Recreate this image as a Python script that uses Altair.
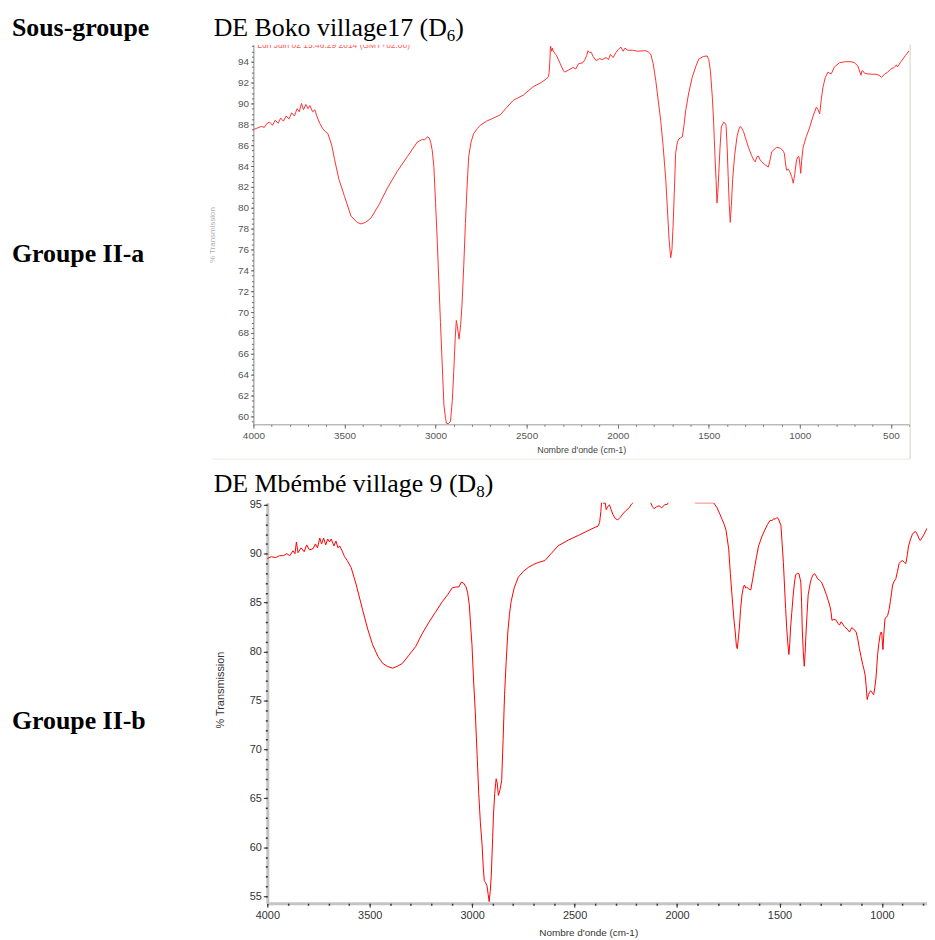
import altair as alt
import pandas as pd

# ---------------- data ----------------
# Top spectrum: DE Boko village17 (D6)
A_WN = [4000, 3985, 3970, 3955, 3940, 3925, 3910, 3895, 3880, 3865, 3850, 3835, 3820, 3805,
        3790, 3775, 3760, 3748, 3736, 3725, 3712, 3700, 3690, 3675, 3663, 3650, 3636, 3620,
        3605, 3591, 3570, 3554, 3530, 3500, 3464, 3430, 3409, 3385, 3355, 3310, 3264, 3210,
        3155, 3100, 3073, 3060, 3045, 3035, 3027, 3018, 3009, 3000, 2991, 2973, 2954, 2945,
        2940, 2930, 2918, 2908, 2900, 2892, 2886, 2880, 2871, 2862, 2855, 2845, 2836, 2827,
        2818, 2805, 2791, 2770, 2755, 2720, 2682, 2645, 2610, 2573, 2518, 2464, 2420, 2391,
        2380, 2376, 2372, 2369, 2362, 2358, 2354, 2345, 2336, 2315, 2300, 2291, 2270, 2245,
        2230, 2215, 2191, 2180, 2170, 2163, 2155, 2145, 2135, 2118, 2100, 2085, 2064, 2050,
        2040, 2025, 2009, 1995, 1982, 1970, 1960, 1945, 1920, 1890, 1860, 1845, 1830, 1818,
        1805, 1791, 1764, 1750, 1736, 1718, 1709, 1702, 1696, 1688, 1682, 1672, 1664, 1655,
        1645, 1635, 1627, 1610, 1591, 1570, 1555, 1530, 1509, 1500, 1491, 1480, 1473, 1466,
        1460, 1455, 1450, 1445, 1438, 1431, 1418, 1410, 1405, 1399, 1394, 1388, 1382, 1376,
        1369, 1358, 1345, 1335, 1327, 1318, 1309, 1295, 1282, 1265, 1250, 1245, 1235, 1227,
        1218, 1209, 1190, 1173, 1163, 1155, 1140, 1127, 1105, 1090, 1085, 1078, 1073, 1063,
        1055, 1045, 1036, 1028, 1018, 1010, 1005, 1000, 995, 990, 982, 965, 945, 927, 909,
        900, 891, 882, 873, 860, 845, 836, 827, 810, 782, 750, 718, 700, 682, 670, 664, 660,
        655, 645, 636, 610, 582, 565, 551, 535, 518, 500, 482, 470, 464, 445, 420, 400]
A_T = [87.5, 87.6, 87.7, 87.8, 87.7, 88.1, 88.2, 87.9, 88.4, 88.1, 88.6, 88.3, 88.8, 88.5,
       89.1, 88.8, 89.5, 89.2, 90.0, 89.4, 89.9, 89.5, 89.8, 89.2, 89.4, 88.7, 88.1, 87.6,
       87.3, 87.1, 86.0, 84.6, 82.7, 81.1, 79.2, 78.6, 78.45, 78.6, 79.0, 80.3, 81.9, 83.5,
       84.9, 86.3, 86.55, 86.5, 86.8, 86.7, 86.3, 85.5, 83.9, 80.5, 77.0, 69.0, 61.1, 59.8,
       59.35, 59.3, 59.5, 61.5, 64.3, 67.5, 69.2, 68.6, 67.4, 68.8, 70.6, 74.5, 78.5, 82.0,
       84.9, 86.3, 87.1, 87.6, 87.9, 88.3, 88.6, 88.9, 89.6, 90.3, 90.8, 91.6, 92.0, 92.35,
       92.6, 93.0, 94.2, 95.5, 95.0, 95.3, 95.05, 94.8, 94.6, 93.8, 93.2, 93.0, 93.2, 93.45,
       93.3, 93.8, 93.9, 94.2, 94.6, 95.05, 94.9, 94.9, 94.5, 94.1, 94.3, 94.2, 94.4, 94.2,
       94.7, 94.4, 94.9, 95.2, 95.4, 95.0, 95.3, 95.1, 95.1, 95.0, 95.05, 95.05, 94.9, 94.7,
       93.8, 92.2, 88.4, 85.8, 82.7, 77.0, 75.2, 76.0, 78.2, 82.0, 85.2, 86.3, 86.6, 86.7,
       86.8, 88.0, 89.3, 91.0, 92.5, 93.6, 94.25, 94.5, 94.55, 94.2, 93.15, 90.5, 88.1, 85.0,
       82.7, 80.45, 81.5, 83.3, 85.8, 87.75, 88.2, 88.1, 87.9, 85.8, 83.3, 80.5, 78.6, 80.2,
       82.7, 85.0, 86.8, 87.5, 87.8, 87.6, 87.3, 86.5, 85.8, 85.0, 84.5, 84.4, 84.9, 84.95,
       84.6, 84.4, 84.1, 83.9, 84.6, 85.35, 85.6, 85.8, 85.7, 85.4, 85.2, 84.2, 83.6, 83.7,
       83.45, 83.0, 82.35, 83.2, 84.6, 84.9, 84.9, 84.2, 83.3, 84.5, 85.8, 86.8, 87.75, 88.8,
       89.65, 89.4, 89.0, 90.4, 91.55, 92.5, 93.0, 92.9, 92.85, 93.5, 93.9, 94.0, 94.0, 93.9,
       93.6, 93.0, 92.7, 93.1, 93.15, 92.9, 92.85, 92.8, 92.8, 92.7, 92.5, 92.8, 93.0, 93.3,
       93.45, 93.7, 93.5, 94.0, 94.6, 95.05]

# Bottom spectrum: DE Mbémbé village 9 (D8)
B_WN = [4000, 3980, 3960, 3940, 3922, 3905, 3890, 3875, 3865, 3858, 3850, 3835, 3820, 3808,
        3795, 3777, 3765, 3755, 3744, 3735, 3725, 3715, 3705, 3696, 3688, 3675, 3665, 3655,
        3647, 3635, 3623, 3610, 3591, 3567, 3534, 3510, 3486, 3460, 3437, 3415, 3389, 3365,
        3340, 3310, 3276, 3245, 3211, 3180, 3146, 3120, 3098, 3080, 3065, 3053, 3042, 3030,
        3022, 3014, 3007, 3001, 2993, 2985, 2976, 2968, 2960, 2952, 2946, 2941, 2935, 2928,
        2922, 2917, 2912, 2907, 2900, 2896, 2890, 2883, 2878, 2872, 2865, 2856, 2849, 2842,
        2834, 2826, 2818, 2810, 2795, 2775, 2750, 2726, 2700, 2678, 2645, 2615, 2581, 2530,
        2484, 2435, 2400, 2386, 2378, 2372, 2368, 2362, 2357, 2352, 2346, 2338, 2330, 2322,
        2314, 2302, 2290, 2278, 2265, 2250, 2233, 2225, 2217, 2205, 2180, 2150, 2135, 2128,
        2120, 2112, 2100, 2088, 2075, 2060, 2047, 2035, 2000, 1960, 1925, 1910, 1880, 1850,
        1821, 1805, 1790, 1780, 1770, 1761, 1748, 1740, 1732, 1722, 1716, 1710, 1706, 1700,
        1696, 1690, 1683, 1676, 1671, 1665, 1660, 1651, 1640, 1630, 1622, 1612, 1602, 1585,
        1570, 1558, 1546, 1535, 1528, 1522, 1513, 1506, 1493, 1487, 1481, 1475, 1470, 1465,
        1460, 1454, 1450, 1446, 1440, 1433, 1426, 1421, 1412, 1405, 1396, 1392, 1389, 1384,
        1379, 1375, 1371, 1365, 1360, 1350, 1344, 1335, 1328, 1320, 1315, 1305, 1295, 1283,
        1271, 1262, 1255, 1248, 1244, 1235, 1223, 1215, 1207, 1199, 1191, 1183, 1170, 1158,
        1147, 1138, 1126, 1118, 1110, 1102, 1094, 1088, 1082, 1077, 1072, 1066, 1061, 1055,
        1050, 1045, 1040, 1035, 1029, 1025, 1021, 1015, 1009, 1004, 1001, 998, 995, 990,
        985, 978, 972, 965, 959, 953, 948, 940, 932, 924, 916, 908, 899, 891, 883, 876,
        870, 860, 851, 843, 835, 828, 820, 813, 805, 794, 780]
B_T = [89.5, 89.7, 89.6, 89.8, 89.8, 90.0, 89.8, 90.3, 90.0, 91.2, 90.1, 90.6, 90.2, 90.9,
       90.4, 90.5, 91.0, 90.6, 91.6, 91.0, 91.6, 90.9, 91.5, 91.2, 91.5, 90.8, 91.3, 90.6,
       90.8, 90.3, 89.7, 89.3, 88.6, 86.9, 84.2, 82.3, 80.7, 79.5, 78.8, 78.5, 78.3, 78.5,
       78.8, 79.6, 80.5, 81.8, 83.0, 84.0, 85.1, 85.8, 86.5, 86.6, 86.6, 87.1, 87.0, 86.6,
       86.0, 84.75, 82.5, 80.7, 77.0, 73.9, 69.5, 65.5, 62.5, 60.4, 58.0, 56.6, 56.4, 56.1,
       55.2, 54.45, 55.5, 57.0, 61.0, 63.4, 65.5, 67.0, 66.6, 65.3, 65.8, 66.8, 71.0, 75.6,
       79.0, 82.0, 83.8, 85.1, 86.5, 87.6, 88.2, 88.6, 88.9, 89.1, 89.3, 90.0, 90.8, 91.4,
       91.85, 92.35, 92.7, 92.8, 93.2, 94.3, 95.4, 95.5, 95.1, 95.4, 94.5, 94.8, 95.0, 94.5,
       94.05, 93.6, 93.45, 93.7, 94.05, 94.4, 94.7, 95.0, 95.15, 95.8, 96.0, 95.8, 95.5, 95.2,
       94.8, 94.6, 94.8, 94.9, 94.7, 95.0, 95.05, 95.6, 96.0, 95.8, 95.5, 95.2, 95.2, 95.2,
       95.2, 94.7, 94.0, 93.5, 93.0, 92.4, 90.5, 88.0, 85.8, 83.2, 82.0, 80.5, 80.3, 81.5,
       82.4, 84.3, 85.8, 86.6, 86.8, 86.5, 86.6, 86.4, 86.3, 87.5, 88.5, 89.7, 90.8, 91.8,
       92.5, 93.0, 93.4, 93.4, 93.6, 93.5, 93.7, 93.6, 92.9, 91.0, 89.1, 86.5, 84.4, 82.5,
       81.0, 79.7, 80.8, 82.4, 84.0, 85.8, 87.2, 87.85, 88.0, 87.95, 87.1, 85.0, 82.4, 80.0,
       78.5, 79.8, 81.7, 84.0, 85.8, 87.0, 87.45, 87.9, 87.95, 87.7, 87.45, 87.3, 87.1, 86.5,
       85.8, 85.2, 84.75, 84.0, 83.2, 83.3, 83.2, 82.9, 82.7, 83.05, 82.8, 82.55, 82.3, 82.0,
       82.45, 82.3, 82.0, 81.3, 80.3, 79.5, 78.7, 78.2, 77.6, 76.5, 75.1, 75.6, 75.8, 76.0,
       75.9, 75.7, 75.6, 76.3, 77.3, 78.5, 79.7, 80.8, 81.7, 82.0, 81.9, 81.0, 80.2, 82.0,
       83.4, 83.5, 83.7, 84.3, 85.1, 86.0, 86.8, 87.2, 87.45, 88.2, 89.0, 89.2, 89.3, 89.1,
       89.0, 89.9, 90.8, 91.5, 92.0, 92.2, 92.25, 92.0, 91.6, 91.35, 91.6, 92.0, 92.6]

# axis ticks
A_X_MAJOR = [4000, 3500, 3000, 2500, 2000, 1500, 1000, 500]
A_X_MINOR = list(range(4000, 399, -100))
A_Y_MAJOR = list(range(60, 96, 2))
A_Y_MINOR = [59.5 + 0.5 * i for i in range(73)]
B_X_MAJOR = [4000, 3500, 3000, 2500, 2000, 1500, 1000]
B_X_MINOR = list(range(4000, 799, -100))
B_Y_MAJOR = list(range(55, 96, 5))
B_Y_MINOR = list(range(55, 96))

# texts
LEFT_LABELS = ["Sous-groupe", "Groupe II-a", "Groupe II-b"]
TITLE_A = ["DE Boko village17 (D", "6", ")"]
TITLE_B = ["DE Mbémbé village 9 (D", "8", ")"]
STAMP = "Lun Juin 02 15:46:29 2014 (GMT+02:00)"
X_TITLE = "Nombre d'onde (cm-1)"
Y_TITLE = "% Transmission"

SERIF = "Liberation Serif"
SANS = "Liberation Sans"


def text(t, x, y, size, font=SERIF, weight="normal", color="#000000", clip=False):
    return alt.Chart(pd.DataFrame({"t": [t]})).mark_text(
        align="left", baseline="alphabetic", font=font, fontSize=size,
        fontWeight=weight, color=color, clip=clip
    ).encode(x=alt.value(x), y=alt.value(y), text="t:N")


# ---------------- top chart ----------------
WA, HA = 660, 382
dfA = pd.DataFrame({"wn": A_WN, "T": A_T})
xsA = alt.Scale(domain=[4000, 400], nice=False, zero=False)
ysA = alt.Scale(domain=[59.24, 95.62], nice=False, zero=False)

lineA = alt.Chart(dfA).mark_line(color="#ff3030", strokeWidth=1, clip=True).encode(
    x=alt.X("wn:Q", scale=xsA, axis=alt.Axis(
        orient="bottom", values=A_X_MAJOR, format="d", labelFlush=False, labelOverlap=False,
        grid=False, labelFont=SANS, labelFontSize=10, labelColor="#555555", labelPadding=2,
        tickSize=4, tickColor="#777777", domainColor="#999999",
        title=X_TITLE, titleFont=SANS, titleFontSize=9, titleFontWeight="normal",
        titleColor="#444444", titlePadding=5)),
    y=alt.Y("T:Q", scale=ysA, axis=alt.Axis(
        orient="left", values=A_Y_MAJOR, grid=False, labelFont=SANS, labelFontSize=10,
        labelColor="#555555", labelPadding=2, tickSize=3, tickColor="#777777",
        domainColor="#888888", title=Y_TITLE, titleFont=SANS, titleFontSize=8,
        titleFontWeight="normal", titleColor="#b0b0b0", titleX=-41, titleY=191,
        titleAlign="center", titleBaseline="middle")),
)
minorA = alt.Chart(dfA).mark_line(strokeOpacity=0).encode(
    x=alt.X("wn:Q", axis=alt.Axis(orient="bottom", values=A_X_MINOR, labels=False,
                                  domain=False, grid=False, tickSize=2, tickColor="#777777",
                                  title=None)),
    y=alt.Y("T:Q", axis=alt.Axis(orient="left", values=A_Y_MINOR, labels=False,
                                 domain=False, grid=False, tickSize=2, tickColor="#666666",
                                 title=None)),
)
borderR = alt.Chart(pd.DataFrame({"t": [0]})).mark_rule(color="#d8d2c4", strokeWidth=1).encode(
    x=alt.value(WA + 1), y=alt.value(0), y2=alt.value(417))
borderB = alt.Chart(pd.DataFrame({"t": [0]})).mark_rule(color="#efe9dc", strokeWidth=1).encode(
    x=alt.value(-42), x2=alt.value(WA + 1), y=alt.value(417))

chartA = alt.layer(
    lineA, minorA, borderR, borderB,
    text(STAMP, 4, 3.5, 8.5, font=SANS, color="#ff5a5a", clip=True),
    text(LEFT_LABELS[0], -243, -9, 26, weight="bold"),
    text(LEFT_LABELS[1], -243, 219, 26, weight="bold"),
    text(TITLE_A[0], -40, -9, 26),
    text(TITLE_A[1], 194.7, -4, 17),
    text(TITLE_A[2], 203.2, -9, 26),
).resolve_axis(x="independent", y="independent").properties(width=WA, height=HA)

# ---------------- bottom chart ----------------
# the bottom plot starts 14 px right of the top one: its x range and y axis are shifted
SHIFT = 14
WB, HB = 678, 403
dfB = pd.DataFrame({"wn": B_WN, "T": B_T})
xsB = alt.Scale(domain=[4000, 780], range=[SHIFT, WB], nice=False, zero=False)
ysB = alt.Scale(domain=[54.29, 95.2], nice=False, zero=False)

lineB = alt.Chart(dfB).mark_line(color="#ff0000", strokeWidth=1, clip=True).encode(
    x=alt.X("wn:Q", scale=xsB, axis=alt.Axis(
        orient="bottom", values=B_X_MAJOR, format="d", labelFlush=False, labelOverlap=False,
        grid=False, labelFont=SANS, labelFontSize=11, labelColor="#333333", labelPadding=2,
        tickSize=4, tickColor="#222222", domainColor="#c4c4c4", domainWidth=3,
        title=X_TITLE, titleFont=SANS, titleFontSize=10, titleFontWeight="normal",
        titleColor="#333333", titlePadding=8, titleX=337)),
    y=alt.Y("T:Q", scale=ysB, axis=alt.Axis(
        orient="left", offset=-SHIFT, values=B_Y_MAJOR, grid=False, labelFont=SANS,
        labelFontSize=11, labelColor="#333333", labelPadding=2, tickSize=4,
        tickColor="#222222", domainColor="#c4c4c4", domainWidth=3, title=Y_TITLE,
        titleFont=SANS, titleFontSize=11, titleFontWeight="normal", titleColor="#333333",
        titleX=-47, titleY=188, titleAlign="center", titleBaseline="middle")),
)
minorB = alt.Chart(dfB).mark_line(strokeOpacity=0).encode(
    x=alt.X("wn:Q", axis=alt.Axis(orient="bottom", values=B_X_MINOR, labels=False,
                                  domain=False, grid=False, tickSize=2, tickWidth=1.5,
                                  tickColor="#333333", title=None)),
    y=alt.Y("T:Q", axis=alt.Axis(orient="left", offset=-SHIFT, values=B_Y_MINOR,
                                 labels=False, domain=False, grid=False, tickSize=2,
                                 tickWidth=1.5, tickColor="#333333", title=None)),
)

chartB = alt.layer(
    lineB, minorB,
    text(LEFT_LABELS[2], -243, 228, 26, weight="bold"),
    text(TITLE_B[0], -40, -11, 26),
    text(TITLE_B[1], 224.3, -6, 17),
    text(TITLE_B[2], 232.8, -11, 26),
).resolve_axis(x="independent", y="independent").properties(width=WB, height=HB)

chart = alt.vconcat(chartA, chartB, spacing=11).properties(
    padding={"left": 4, "top": 4, "right": 0, "bottom": 0},
    background="white",
).configure_view(stroke=None)

chart.save("out.html", embed_options={"renderer": "svg", "actions": False})
